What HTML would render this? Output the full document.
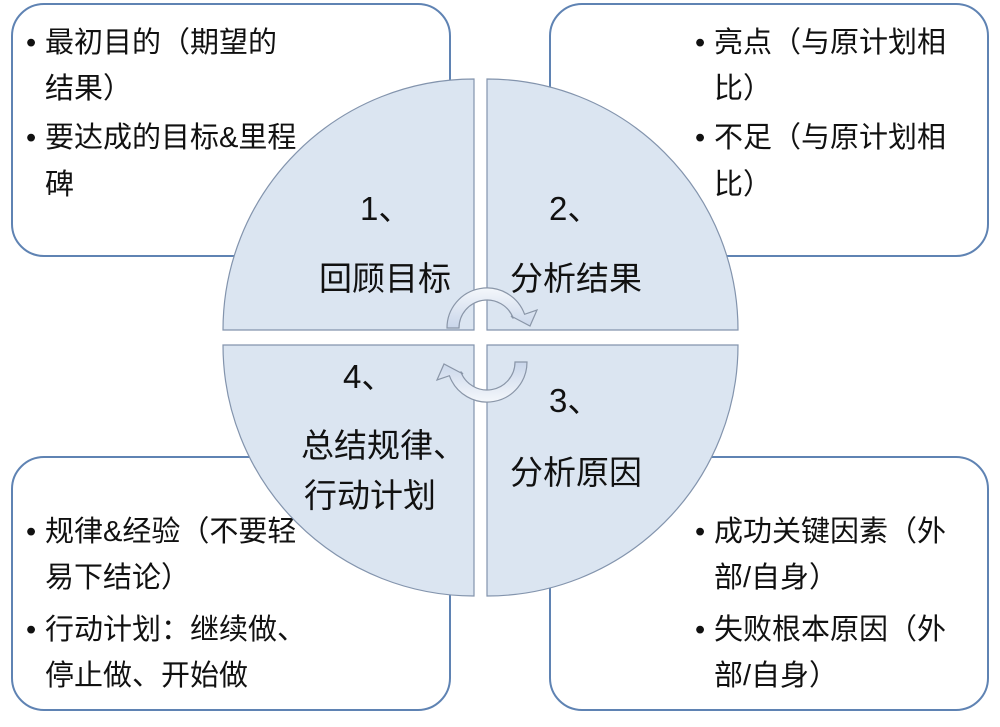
<!DOCTYPE html>
<html><head><meta charset="utf-8"><style>
html,body{margin:0;padding:0;background:#fff;}
svg text{font-family:"Liberation Sans","Noto Sans CJK SC",sans-serif;fill:#111;}
</style></head><body>
<svg width="1000" height="722" viewBox="0 0 1000 722" xmlns="http://www.w3.org/2000/svg">
<defs>
<linearGradient id="ag" x1="0" y1="0" x2="0" y2="1">
<stop offset="0" stop-color="#f4f7fb"/><stop offset="1" stop-color="#c9d6ea"/>
</linearGradient>
</defs>
<g fill="#fff" stroke="#5f83b3" stroke-width="2">
<rect x="12" y="4" width="438" height="252" rx="32"/>
<rect x="550" y="4" width="438" height="252" rx="32"/>
<rect x="12" y="457" width="438" height="253" rx="32"/>
<rect x="550" y="457" width="438" height="253" rx="32"/>
</g>
<g font-size="29">
<text x="26" y="52">•</text><text x="45" y="52">最初目的（期望的</text>
<text x="45" y="98">结果）</text>
<text x="26" y="147">•</text><text x="45" y="147">要达成的目标&amp;里程</text>
<text x="45" y="194">碑</text>
<text x="695" y="52">•</text><text x="714" y="52">亮点（与原计划相</text>
<text x="714" y="98">比）</text>
<text x="695" y="147">•</text><text x="714" y="147">不足（与原计划相</text>
<text x="714" y="194">比）</text>
<text x="26" y="541">•</text><text x="45" y="541">规律&amp;经验（不要轻</text>
<text x="45" y="587">易下结论）</text>
<text x="26" y="639">•</text><text x="45" y="639">行动计划：继续做、</text>
<text x="45" y="685">停止做、开始做</text>
<text x="695" y="541">•</text><text x="714" y="541">成功关键因素（外</text>
<text x="714" y="587">部/自身）</text>
<text x="695" y="639">•</text><text x="714" y="639">失败根本原因（外</text>
<text x="714" y="685">部/自身）</text>
</g>
<g fill="#dbe5f1" stroke="#8394ad" stroke-width="1.2">
<path d="M474,330 L223,330 A251,251 0 0 1 474,79 Z"/>
<path d="M487,330 L487,79 A251,251 0 0 1 738,330 Z"/>
<path d="M474,345 L474,596 A251,251 0 0 1 223,345 Z"/>
<path d="M487,345 L738,345 A251,251 0 0 1 487,596 Z"/>
</g>
<g font-size="33">
<text x="360" y="220">1、</text>
<text x="319" y="290">回顾目标</text>
<text x="549" y="220">2、</text>
<text x="510" y="290">分析结果</text>
<text x="343" y="388">4、</text>
<text x="301" y="457">总结规律、</text>
<text x="304" y="507">行动计划</text>
<text x="549" y="412">3、</text>
<text x="510" y="484">分析原因</text>
</g>
<g fill="url(#ag)" stroke="#8a96a8" stroke-width="1.2">
<path d="M447,328 A40,40 0 0 1 524.6,314.3 L537,310 L530,326 L511,316 L513.3,318.4 A28,28 0 0 0 459,328 Z"/>
<path d="M447,328 A40,40 0 0 1 524.6,314.3 L537,310 L530,326 L511,316 L513.3,318.4 A28,28 0 0 0 459,328 Z" transform="rotate(180 487 345)"/>
</g>
</svg>
</body></html>
